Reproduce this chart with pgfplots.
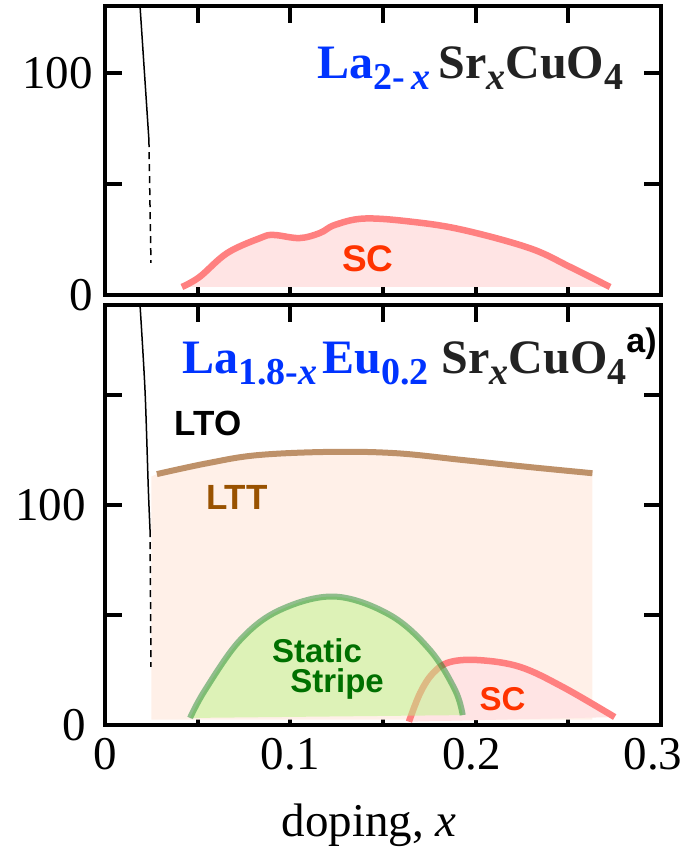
\documentclass[border=0pt]{standalone}
\usepackage{fontspec}
\setmainfont{Liberation Serif}
\setsansfont{Liberation Sans}
\usepackage{pgfplots}
\pgfplotsset{compat=1.18}

\definecolor{scline}{RGB}{255,128,128}
\definecolor{scfill}{RGB}{255,228,228}
\definecolor{lttline}{RGB}{190,145,105}
\definecolor{lttfill}{RGB}{255,240,232}
\definecolor{lttlabel}{RGB}{153,82,0}
\definecolor{stripefill}{RGB}{189,244,136}
\definecolor{stripeline}{RGB}{10,128,30}
\definecolor{stripelabel}{RGB}{0,112,0}
\definecolor{sclabel}{RGB}{255,51,0}
\definecolor{formulablue}{RGB}{0,51,255}
\definecolor{formulagray}{RGB}{34,34,34}

% chemical formula helpers
\newcommand{\sub}[1]{\raisebox{-5.5pt}{\fontsize{19}{21}\selectfont #1}}
\newcommand{\formulafont}{\fontsize{24}{28}\selectfont\bfseries}

\pgfplotsset{
  panel/.style={
    scale only axis,
    width=278pt,
    xmin=0, xmax=0.3,
    axis line style={line width=2pt},
    tick align=inside,
    major tick length=8.5pt,
    every tick/.style={line width=2pt, black},
    ticklabel style={font=\fontsize{23.5}{28}\selectfont},
    xticklabel style={yshift=-3pt},
    clip=true,
  },
  phase/.style={black, line width=0.75pt},
  phasedash/.style={black, line width=0.75pt, dash pattern=on 3.5pt off 2.5pt},
  dome/.style={smooth, tension=0.6},
}

\begin{document}
\begin{tikzpicture}
% ---------------- La(2-x)Sr(x)CuO4 ----------------
\begin{axis}[panel,
  at={(52.5pt,277.5pt)}, anchor=south west,
  height=144.5pt,
  ymin=0, ymax=130,
  ytick={0,50,100}, yticklabels={0,,100},
  yticklabel style={xshift=-2.5pt},
  xtick={0.05,0.1,0.15,0.2,0.25}, xticklabels={},
]
  % superconducting dome
  \addplot[draw=none, fill=scfill, dome] coordinates {
    (0.0415,3.6) (0.051,8.1) (0.066,18.9) (0.084,25.7) (0.091,27.0)
    (0.105,25.6) (0.116,27.9) (0.124,31.5) (0.140,34.4)
    (0.166,32.9) (0.193,29.3) (0.229,21.1) (0.251,12.6) (0.2725,3.6)
  } --cycle;
  \addplot[scline, line width=3.25pt, dome] coordinates {
    (0.0415,3.6) (0.051,8.1) (0.066,18.9) (0.084,25.7) (0.091,27.0)
    (0.105,25.6) (0.116,27.9) (0.124,31.5) (0.140,34.4)
    (0.166,32.9) (0.193,29.3) (0.229,21.1) (0.251,12.6) (0.2725,3.6)
  };
  % structural transition
  \addplot[phase] coordinates {(0.0189,130) (0.0237,69.7)};
  \addplot[phasedash] coordinates {(0.0237,69.7) (0.0248,14.4)};
  \node[anchor=base west, inner sep=0pt, font=\formulafont]
    at (axis cs:0.1144,97.6)
    {{\color{formulablue}La\sub{2-\,\textit{x}}}\,\textcolor{formulagray}{Sr\sub{\textit{x}}CuO\sub{4}}};
  \node[font=\fontsize{18.5}{22}\selectfont\sffamily\bfseries, text=sclabel, inner sep=0pt]
    at (axis cs:0.1419,16.2) {SC};
\end{axis}

% ---------------- La(1.8-x)Eu(0.2)Sr(x)CuO4 ----------------
\begin{axis}[panel,
  at={(52.5pt,62.5pt)}, anchor=south west,
  height=210pt,
  ymin=0, ymax=191,
  ytick={0,50,100,150}, yticklabels={0,,100,},
  yticklabel style={xshift=-6pt},
  xtick={0,0.05,0.1,0.15,0.2,0.25,0.3},
  xticklabels={0,,0.1,,0.2\hspace*{4pt},,0.3\hspace*{8pt}},
]
  % LTT region
  \addplot[draw=none, fill=lttfill] coordinates {
    (0.025,2.5) (0.025,113.0) (0.028,114.1) (0.055,119.0) (0.082,122.7)
    (0.1214,124.2) (0.157,123.6) (0.193,120.5) (0.229,117.3) (0.263,114.5)
    (0.263,2.5)
  } --cycle;
  \addplot[lttline, line width=3pt, dome] coordinates {
    (0.028,114.1) (0.055,119.0) (0.082,122.7) (0.1214,124.2) (0.157,123.6)
    (0.193,120.5) (0.229,117.3) (0.263,114.5)
  };
  % LTO boundary
  \addplot[phase, smooth] coordinates {(0.0189,191) (0.0216,152) (0.0234,106.8) (0.0243,88.6)};
  \addplot[phasedash] coordinates {(0.0243,88.6) (0.0248,26.4)};
  % superconducting dome
  \addplot[draw=none, fill=scfill, dome] coordinates {
    (0.1640,1.5) (0.170,14.5) (0.177,23.6) (0.186,28.6) (0.202,29.5)
    (0.224,26.4) (0.247,17.3) (0.275,3.6)
  } --cycle;
  \addplot[scline, line width=3.25pt, dome] coordinates {
    (0.1640,1.5) (0.170,14.5) (0.177,23.6) (0.186,28.6) (0.202,29.5)
    (0.224,26.4) (0.247,17.3) (0.275,3.6)
  };
  % static stripe dome
  \addplot[draw=none, fill=stripefill, fill opacity=0.5, dome] coordinates {
    (0.0459,3.2) (0.054,15.9) (0.0729,38.6) (0.0944,52.3) (0.124,58.4)
    (0.1538,50.0) (0.1754,34.0) (0.1889,15.9) (0.193,4.5)
  } --cycle;
  \addplot[stripeline, draw opacity=0.45, line width=3pt, dome] coordinates {
    (0.0459,3.2) (0.054,15.9) (0.0729,38.6) (0.0944,52.3) (0.124,58.4)
    (0.1538,50.0) (0.1754,34.0) (0.1889,15.9) (0.193,4.5)
  };
  \node[anchor=base west, inner sep=0pt, font=\formulafont]
    at (axis cs:0.0415,160)
    {{\color{formulablue}La\sub{1.8-\textit{x}}\kern2.5pt Eu\sub{0.2}}\kern2.5pt\,\textcolor{formulagray}{Sr\sub{\textit{x}}CuO\sub{4}}\raisebox{10.5pt}{\fontsize{17}{20}\selectfont\sffamily\bfseries a)}};
  \node[font=\fontsize{17.5}{21}\selectfont\sffamily\bfseries, inner sep=0pt]
    at (axis cs:0.0556,137.3) {LTO};
  \node[font=\fontsize{17.5}{21}\selectfont\sffamily\bfseries, text=lttlabel, inner sep=0pt]
    at (axis cs:0.0712,103.7) {LTT};
  \node[font=\fontsize{16.5}{20}\selectfont\sffamily\bfseries, text=stripelabel, anchor=base, inner sep=0pt]
    at (axis cs:0.1144,28.6) {Static};
  \node[font=\fontsize{16.5}{20}\selectfont\sffamily\bfseries, text=stripelabel, anchor=base, inner sep=0pt]
    at (axis cs:0.1252,15.0) {Stripe};
  \node[font=\fontsize{16.5}{20}\selectfont\sffamily\bfseries, text=sclabel, inner sep=0pt]
    at (axis cs:0.2145,11.6) {SC};
\end{axis}

\node[anchor=base, font=\fontsize{23.5}{28}\selectfont] at (184.5pt,6.5pt) {doping, \textit{x}};

\pgfresetboundingbox
\path[use as bounding box] (0,0) rectangle (343.5pt,425pt);
\end{tikzpicture}
\end{document}
